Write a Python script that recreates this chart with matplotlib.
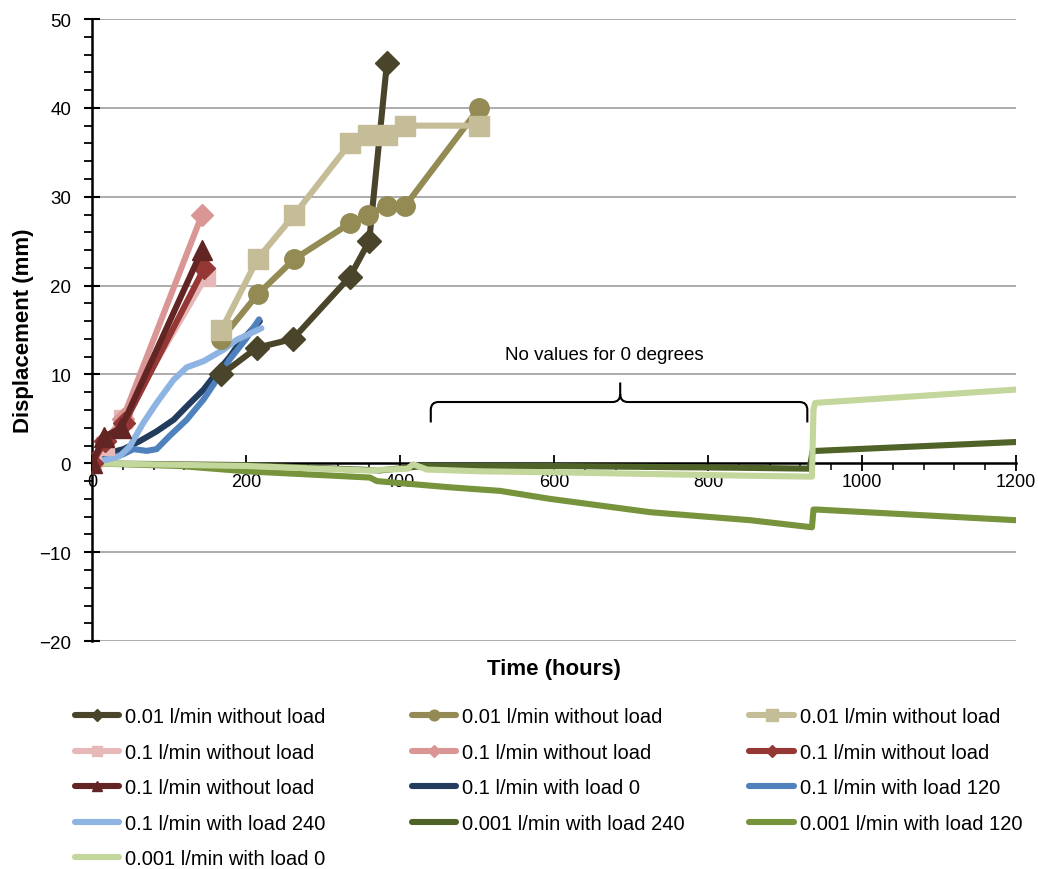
import matplotlib
matplotlib.use("Agg")
import matplotlib.pyplot as plt
from matplotlib.path import Path
from matplotlib.patches import PathPatch
from matplotlib.ticker import MultipleLocator, FuncFormatter

plt.rcParams['font.family'] = ['Liberation Sans', 'DejaVu Sans']

# --- data (hours, mm) ---
# 0.01 l/min without load (three runs)
t_a = [168, 214, 261, 335, 360, 383]
d_a = [10, 13, 14, 21, 25, 45]
t_b = [168, 215, 263, 335, 359, 383, 407, 503]
d_b = [14, 19, 23, 27, 28, 29, 29, 40]
t_c = [168, 215, 263, 335, 359, 383, 406, 503]
d_c = [15, 23, 28, 36, 37, 37, 38, 38]

# 0.1 l/min without load (four runs)
t_d = [0, 17, 40, 148]
d_d = [0, 2, 5, 21]
t_e = [0, 17, 40, 143]
d_e = [0, 2.5, 5, 28]
t_f = [0, 17, 42, 146]
d_f = [0, 2.5, 4.5, 22]
t_g = [0, 16, 38, 143]
d_g = [0, 3, 4, 24]

# 0.1 l/min with load
t_h = [0, 6, 23, 41, 62, 84, 106, 123, 145, 162, 179, 192, 218]
d_h = [0, 0.5, 1.2, 1.6, 2.5, 3.6, 4.9, 6.4, 8.3, 10.2, 12, 13.6, 16]
t_i = [0, 10, 40, 54, 71, 84, 101, 123, 145, 162, 179, 200, 217]
d_i = [0, 0.3, 1, 1.6, 1.4, 1.6, 3.1, 4.9, 7.2, 9.4, 11.7, 14, 16.2]
t_j = [0, 14, 36, 49, 67, 84, 106, 123, 145, 171, 188, 220]
d_j = [0, 0.3, 0.8, 1.9, 4.6, 6.8, 9.4, 10.8, 11.5, 12.8, 13.9, 15.2]

# 0.001 l/min with load
t_k = [0, 200, 374, 430, 600, 842, 932, 936, 941, 1200]
d_k = [0, -0.2, -0.8, -0.3, -0.3, -0.5, -0.6, 1.4, 1.4, 2.4]
t_l = [0, 114, 201, 361, 370, 465, 530, 595, 725, 855, 935, 937, 941, 1200]
d_l = [0, -0.3, -0.9, -1.6, -2.0, -2.7, -3.1, -4.0, -5.5, -6.4, -7.2, -5.2, -5.2, -6.4]
t_m = [0, 200, 357, 410, 417, 435, 504, 595, 855, 935, 937, 939, 1200]
d_m = [0, -0.3, -0.8, -0.6, -0.1, -0.7, -0.9, -1.0, -1.4, -1.5, 6.0, 6.8, 8.3]

labels = ['0.01 l/min without load', '0.01 l/min without load', '0.01 l/min without load',
          '0.1 l/min without load', '0.1 l/min without load', '0.1 l/min without load',
          '0.1 l/min without load', '0.1 l/min with load 0', '0.1 l/min with load 120',
          '0.1 l/min with load 240', '0.001 l/min with load 240', '0.001 l/min with load 120',
          '0.001 l/min with load 0']
colors = ['#4A452A', '#948A54', '#C4BD97', '#E6B9B8', '#D99694', '#953735', '#632523',
          '#233C5E', '#4F81BD', '#8EB4E3', '#4F6228', '#77933C', '#C3D69B']
markers = ['D', 'o', 's', 's', 'D', 'D', '^', None, None, None, None, None, None]
msizes = [12, 14, 15, 13, 11, 11, 14, 0, 0, 0, 0, 0, 0]

series = [(t_a, d_a), (t_b, d_b), (t_c, d_c), (t_d, d_d), (t_e, d_e), (t_f, d_f), (t_g, d_g),
          (t_h, d_h), (t_i, d_i), (t_j, d_j), (t_k, d_k), (t_l, d_l), (t_m, d_m)]

fig = plt.figure(figsize=(10.38, 8.70), dpi=100)
ax = fig.add_axes([0.0886, 0.262, 0.8902, 0.715])

# drawing order: green first, then blue, then the rest on top
order = [10, 11, 12, 7, 8, 9, 0, 1, 2, 3, 4, 5, 6]
handles = [None] * 13
for i in order:
    t, d = series[i]
    ln, = ax.plot(t, d, color=colors[i], lw=4.4, marker=markers[i], ms=msizes[i],
                  mec=colors[i], solid_joinstyle='round', solid_capstyle='round',
                  label=labels[i], zorder=3)
    handles[i] = ln

ax.set_xlim(0, 1200)
ax.set_ylim(-20, 50)
ax.xaxis.set_major_locator(MultipleLocator(200))
ax.xaxis.set_minor_locator(MultipleLocator(40))
ax.yaxis.set_major_locator(MultipleLocator(10))
ax.yaxis.set_minor_locator(MultipleLocator(2))
ax.yaxis.set_major_formatter(FuncFormatter(lambda v, p: f'{v:.0f}'.replace('-', '\u2212')))

for y in range(-20, 51, 10):
    if y != 0:
        ax.axhline(y, color='#A6A6A6', lw=1.3, zorder=1)

ax.spines['top'].set_visible(False)
ax.spines['right'].set_visible(False)
ax.spines['bottom'].set_position(('data', 0))
ax.spines['bottom'].set_linewidth(1.8)
ax.spines['left'].set_linewidth(1.8)
ax.spines['bottom'].set_zorder(2)

ax.tick_params(axis='x', which='major', direction='inout', length=12, width=1.3,
               labelsize=13, pad=1)
ax.tick_params(axis='x', which='minor', direction='out', length=5, width=1.1)
ax.tick_params(axis='y', which='major', direction='inout', length=12, width=1.5,
               labelsize=13.5, pad=9)
ax.tick_params(axis='y', which='minor', direction='out', length=6, width=1.3)

ax.set_xlabel('Time (hours)', fontsize=16, fontweight='bold')
ax.xaxis.set_label_coords(0.5, -0.028)
ax.set_ylabel('Displacement (mm)', fontsize=16, fontweight='bold', labelpad=4)

# brace for the gap with no data
x0, x1, xm = 440, 929, 686
yb, yh, yp = 4.6, 6.9, 9.1
r = 10
verts = [(x0, yb), (x0, yh - 0.9), (x0, yh), (x0 + r, yh),
         (xm - r, yh), (xm, yh), (xm, yh + 0.9), (xm, yp),
         (xm, yh + 0.9), (xm, yh), (xm + r, yh),
         (x1 - r, yh), (x1, yh), (x1, yh - 0.9), (x1, yb)]
codes = [Path.MOVETO, Path.LINETO, Path.CURVE3, Path.CURVE3,
         Path.LINETO, Path.CURVE3, Path.CURVE3, Path.LINETO,
         Path.MOVETO, Path.CURVE3, Path.CURVE3,
         Path.LINETO, Path.CURVE3, Path.CURVE3, Path.LINETO]
ax.add_patch(PathPatch(Path(verts, codes), fill=False, lw=1.5, color='black', zorder=4))
ax.text(665, 12.2, 'No values for 0 degrees', ha='center', va='center', fontsize=13.5)

# legend, three columns placed separately
cols = [[0, 3, 6, 9, 12], [1, 4, 7, 10], [2, 5, 8, 11]]
xs = [0.072, 0.397, 0.722]
for c, x in zip(cols, xs):
    fig.legend([handles[i] for i in c], [labels[i] for i in c],
               loc='upper left', bbox_to_anchor=(x, 0.186), frameon=False,
               fontsize=14.5, handlelength=2.2, handletextpad=0.3,
               labelspacing=0.82, markerscale=0.55, borderaxespad=0, borderpad=0)

fig.savefig('out.png', dpi=100)
